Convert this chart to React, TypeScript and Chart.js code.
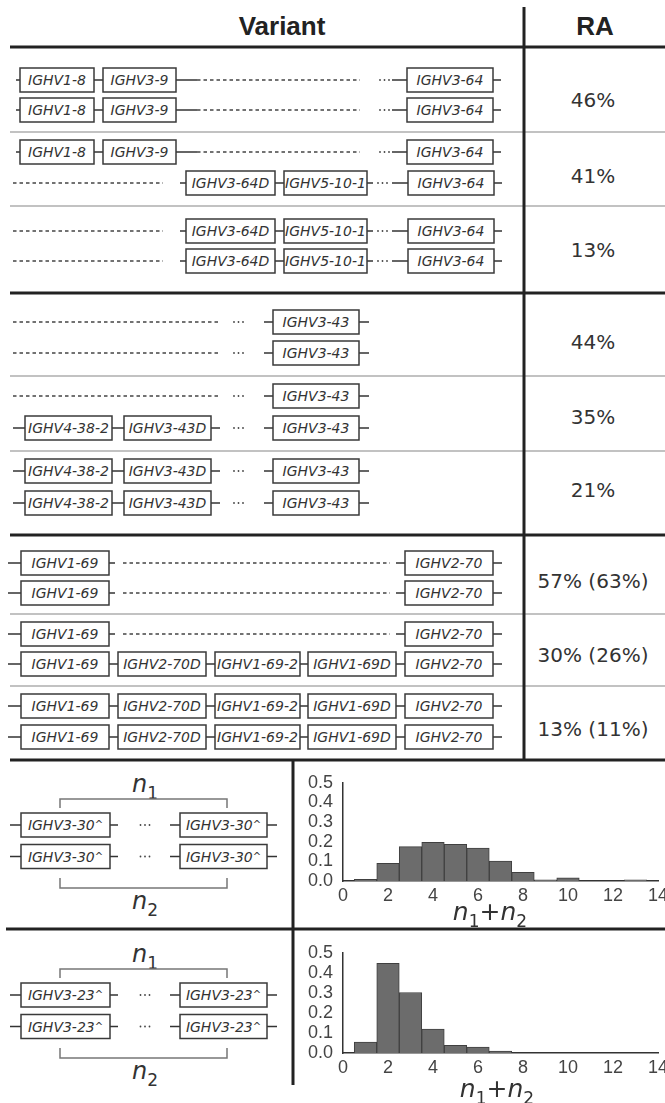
import React, { useEffect, useRef } from "react";
import { Chart, registerables } from "chart.js";

Chart.register(...registerables);

// ---- table text ----
const headerVariant = "Variant";
const headerRA = "RA";
const raLabels = ["46%", "41%", "13%", "44%", "35%", "21%", "57% (63%)", "30% (26%)", "13% (11%)"];

// ---- haplotypes (gene order along the locus) ----
const hap64Short = ["IGHV1-8", "IGHV3-9", "IGHV3-64"];
const hap64Dup = ["IGHV3-64D", "IGHV5-10-1", "IGHV3-64"];
const hap43Del = ["IGHV3-43"];
const hap43Dup = ["IGHV4-38-2", "IGHV3-43D", "IGHV3-43"];
const hap69Single = ["IGHV1-69", "IGHV2-70"];
const hap69Dup = ["IGHV1-69", "IGHV2-70D", "IGHV1-69-2", "IGHV1-69D", "IGHV2-70"];

// ---- copy-number genes and n1+n2 distributions ----
const cnvGenes = ["IGHV3-30^", "IGHV3-23^"];
const copyBins = [1, 2, 3, 4, 5, 6, 7, 8, 9, 10, 11, 12, 13];
const ighv3_30Freq = [0.008, 0.09, 0.175, 0.197, 0.187, 0.167, 0.102, 0.044, 0.006, 0.016, 0, 0, 0.006];
const ighv3_23Freq = [0.055, 0.448, 0.302, 0.119, 0.038, 0.029, 0.01, 0, 0, 0, 0, 0, 0];

// ---- drawing helpers ----
type Seg = { kind: "box" | "line" | "dash" | "dots"; x1: number; x2: number; label?: string };
const L = (x1: number, x2: number): Seg => ({ kind: "line", x1, x2 });
const D = (x1: number, x2: number): Seg => ({ kind: "dash", x1, x2 });
const P = (x1: number, x2: number): Seg => ({ kind: "dots", x1, x2 });
const B = (x1: number, x2: number, label: string): Seg => ({ kind: "box", x1, x2, label });

const lay64Short = (g: string[]) => [L(16, 20), B(20, 94, g[0]), L(94, 103), B(103, 176, g[1]), L(176, 197), D(197, 360), P(377, 392), L(392, 407), B(407, 493, g[2]), L(493, 501)];
const lay64Dup = (g: string[]) => [D(13, 163), L(180, 186), B(186, 275, g[0]), L(275, 284), B(284, 367, g[1]), L(367, 373), P(373, 392), L(392, 408), B(408, 494, g[2]), L(494, 502)];
const lay43Del = (g: string[]) => [D(13, 220), P(232, 245), L(264, 273), B(273, 359, g[0]), L(359, 369)];
const lay43Dup = (g: string[]) => [L(13, 25), B(25, 112, g[0]), L(112, 124), B(124, 211, g[1]), L(211, 220), P(232, 245), L(264, 273), B(273, 359, g[2]), L(359, 369)];
const lay69Single = (g: string[]) => [L(8, 21), B(21, 109, g[0]), L(109, 115), D(123, 390), L(396, 405), B(405, 493, g[1]), L(493, 502)];
const lay69Dup = (g: string[]) => [L(8, 21), B(21, 109, g[0]), L(109, 118), B(118, 206, g[1]), L(206, 215), B(215, 300, g[2]), L(300, 308), B(308, 396, g[3]), L(396, 405), B(405, 493, g[4]), L(493, 502)];
const layCopies = (gene: string) => [L(10, 21), B(21, 110, gene), L(110, 118), P(138, 152), L(170, 180), B(180, 267, gene), L(267, 277)];

const variants: Seg[][][] = [
  [lay64Short(hap64Short), lay64Short(hap64Short)],
  [lay64Short(hap64Short), lay64Dup(hap64Dup)],
  [lay64Dup(hap64Dup), lay64Dup(hap64Dup)],
  [lay43Del(hap43Del), lay43Del(hap43Del)],
  [lay43Del(hap43Del), lay43Dup(hap43Dup)],
  [lay43Dup(hap43Dup), lay43Dup(hap43Dup)],
  [lay69Single(hap69Single), lay69Single(hap69Single)],
  [lay69Single(hap69Single), lay69Dup(hap69Dup)],
  [lay69Dup(hap69Dup), lay69Dup(hap69Dup)],
];

const rowY = [[80, 110], [152, 183], [231, 261], [322, 353], [396, 428], [471, 503], [563, 593], [634, 664], [706, 737]];
const raY = [100, 176, 250, 342, 417, 490, 581, 655, 729];
const thickY = [47, 293, 535, 760, 929];
const thinY = [132, 206, 376, 451, 614, 686];
const sectionTop = [760, 930];

const DV = "'DejaVu Sans', sans-serif";
const LS = "'Liberation Sans', Arial, sans-serif";

function GeneLabel({ x, y, name }: { x: number; y: number; name: string }) {
  const caret = name.endsWith("^");
  const base = caret ? name.slice(0, -1) : name;
  return (
    <text x={x} y={y} textAnchor="middle" fontFamily={DV} fontStyle="italic" fontSize={14} fill="#333">
      {base}
      {caret && (
        <tspan fontSize={10} dy={-2}>
          ^
        </tspan>
      )}
    </text>
  );
}

function Row({ segs, y }: { segs: Seg[]; y: number }) {
  const lines = segs.filter((s) => s.kind !== "box");
  const boxes = segs.filter((s) => s.kind === "box");
  return (
    <g>
      {lines.map((s, i) => {
        if (s.kind === "line")
          return <line key={i} x1={s.x1} x2={s.x2} y1={y} y2={y} stroke="#333" strokeWidth={1.5} />;
        if (s.kind === "dash")
          return <line key={i} x1={s.x1} x2={s.x2} y1={y} y2={y} stroke="#444" strokeWidth={1.3} strokeDasharray="3.5 3" />;
        const c = (s.x1 + s.x2) / 2;
        return (
          <g key={i} fill="#444">
            {[-4.5, 0, 4.5].map((d) => (
              <circle key={d} cx={c + d} cy={y} r={0.9} />
            ))}
          </g>
        );
      })}
      {boxes.map((s, i) => (
        <g key={"b" + i}>
          <rect x={s.x1} y={y - 12} width={s.x2 - s.x1} height={24} fill="#fff" stroke="#3a3a3a" strokeWidth={1.5} />
          <GeneLabel x={(s.x1 + s.x2) / 2} y={y + 5} name={s.label || ""} />
        </g>
      ))}
    </g>
  );
}

function NLabel({ x, y, sub }: { x: number; y: number; sub: string }) {
  return (
    <text x={x} y={y} textAnchor="middle" fontFamily={DV} fontSize={24} fill="#333">
      <tspan fontStyle="italic">n</tspan>
      <tspan fontSize={17} dy={7}>
        {sub}
      </tspan>
    </text>
  );
}

// n1+n2 axis title, drawn under the x axis
const mathTitle = {
  id: "mathTitle",
  afterDraw(chart: any, _args: any, opts: any) {
    const ctx = chart.ctx as CanvasRenderingContext2D;
    const parts = [
      { t: "n", f: `italic 25px ${DV}`, dy: 0 },
      { t: "1", f: `17px ${DV}`, dy: 7 },
      { t: "+", f: `25px ${DV}`, dy: 0 },
      { t: "n", f: `italic 25px ${DV}`, dy: 0 },
      { t: "2", f: `17px ${DV}`, dy: 7 },
    ];
    ctx.save();
    let total = 0;
    const widths = parts.map((p) => {
      ctx.font = p.f;
      const w = ctx.measureText(p.t).width;
      total += w;
      return w;
    });
    let x = opts.x - total / 2;
    ctx.fillStyle = "#333";
    ctx.textBaseline = "alphabetic";
    ctx.textAlign = "left";
    parts.forEach((p, i) => {
      ctx.font = p.f;
      ctx.fillText(p.t, x, opts.y + p.dy);
      x += widths[i];
    });
    ctx.restore();
  },
};

type HistProps = {
  freq: number[];
  top: number;
  height: number;
  padTop: number;
  axisH: number;
  titleX: number;
  titleBase: number;
};

const HIST_LEFT = 290;
const HIST_W = 386;

function Histogram({ freq, top, height, padTop, axisH, titleX, titleBase }: HistProps) {
  const ref = useRef<HTMLCanvasElement>(null);
  useEffect(() => {
    const tickFont = { family: LS, size: 18, lineHeight: 1.2 };
    const chart = new Chart(ref.current as HTMLCanvasElement, {
      type: "bar",
      data: {
        datasets: [
          {
            data: copyBins.map((b, i) => ({ x: b, y: freq[i] })),
            backgroundColor: "#6c6c6c",
            borderColor: "#404040",
            borderWidth: 1,
            barPercentage: 1,
            categoryPercentage: 1,
          },
        ],
      },
      options: {
        responsive: false,
        animation: false,
        devicePixelRatio: 1,
        layout: { padding: { top: padTop, right: 18, left: 0, bottom: 0 } },
        plugins: {
          legend: { display: false },
          tooltip: { enabled: false },
          mathTitle: { x: titleX - HIST_LEFT, y: titleBase - top },
        } as any,
        scales: {
          x: {
            type: "linear",
            min: 0,
            max: 14,
            offset: false,
            grid: { display: false, drawTicks: false },
            border: { display: true, color: "#333", width: 1.5 },
            ticks: { stepSize: 2, autoSkip: false, maxRotation: 0, padding: 4, color: "#444", font: tickFont },
            afterFit: (s: any) => {
              s.height = axisH;
            },
          },
          y: {
            min: 0,
            max: 0.5,
            grid: { display: false, drawTicks: false },
            border: { display: true, color: "#333", width: 1.5 },
            ticks: {
              stepSize: 0.1,
              autoSkip: false,
              padding: 10,
              color: "#444",
              font: tickFont,
              callback: (v: any) => Number(v).toFixed(1),
            },
            afterFit: (s: any) => {
              s.width = 343 - HIST_LEFT;
            },
          },
        } as any,
      },
      plugins: [mathTitle],
    });
    return () => chart.destroy();
  }, []);
  return (
    <canvas
      ref={ref}
      width={HIST_W}
      height={height}
      style={{ position: "absolute", left: HIST_LEFT, top, width: HIST_W, height }}
    />
  );
}

export default function App() {
  return (
    <div style={{ position: "absolute", left: 0, top: 0, width: 665, height: 1103, overflow: "hidden", background: "#fff" }}>
      <svg width={665} height={1103} style={{ position: "absolute", left: 0, top: 0 }}>
        {/* header */}
        <text x={282} y={35} textAnchor="middle" fontFamily={LS} fontWeight="bold" fontSize={26} fill="#222">
          {headerVariant}
        </text>
        <text x={595} y={35} textAnchor="middle" fontFamily={LS} fontWeight="bold" fontSize={26} fill="#222">
          {headerRA}
        </text>

        {/* separators */}
        {thinY.map((y) => (
          <line key={"t" + y} x1={10} x2={665} y1={y} y2={y} stroke="#c2c2c2" strokeWidth={2} />
        ))}
        {thickY.map((y) => (
          <line key={"k" + y} x1={y > 900 ? 6 : 10} x2={665} y1={y} y2={y} stroke="#222" strokeWidth={3} />
        ))}
        <line x1={524} x2={524} y1={7} y2={760} stroke="#222" strokeWidth={3} />
        <line x1={293} x2={293} y1={760} y2={1085} stroke="#222" strokeWidth={3} />

        {/* variant rows */}
        {variants.map((pair, gi) => (
          <g key={gi}>
            <Row segs={pair[0]} y={rowY[gi][0]} />
            <Row segs={pair[1]} y={rowY[gi][1]} />
            <text x={593} y={raY[gi] + 7.3} textAnchor="middle" fontFamily={DV} fontSize={20} fill="#333">
              {raLabels[gi]}
            </text>
          </g>
        ))}

        {/* copy-number diagrams */}
        {cnvGenes.map((gene, si) => {
          const t = sectionTop[si];
          return (
            <g key={gene}>
              <NLabel x={145} y={t + 32} sub="1" />
              <polyline points={`60,${t + 48} 60,${t + 39} 227,${t + 39} 227,${t + 48}`} fill="none" stroke="#777" strokeWidth={1.5} />
              <Row segs={layCopies(gene)} y={t + 65} />
              <Row segs={layCopies(gene)} y={t + 96.5} />
              <polyline points={`60,${t + 118} 60,${t + 128} 227,${t + 128} 227,${t + 118}`} fill="none" stroke="#777" strokeWidth={1.5} />
              <NLabel x={145} y={t + 149} sub="2" />
            </g>
          );
        })}
      </svg>

      <Histogram freq={ighv3_30Freq} top={762} height={166} padTop={17} axisH={47} titleX={490} titleBase={920} />
      <Histogram freq={ighv3_23Freq} top={932} height={171} padTop={16} axisH={50} titleX={497} titleBase={1097} />
    </div>
  );
}
